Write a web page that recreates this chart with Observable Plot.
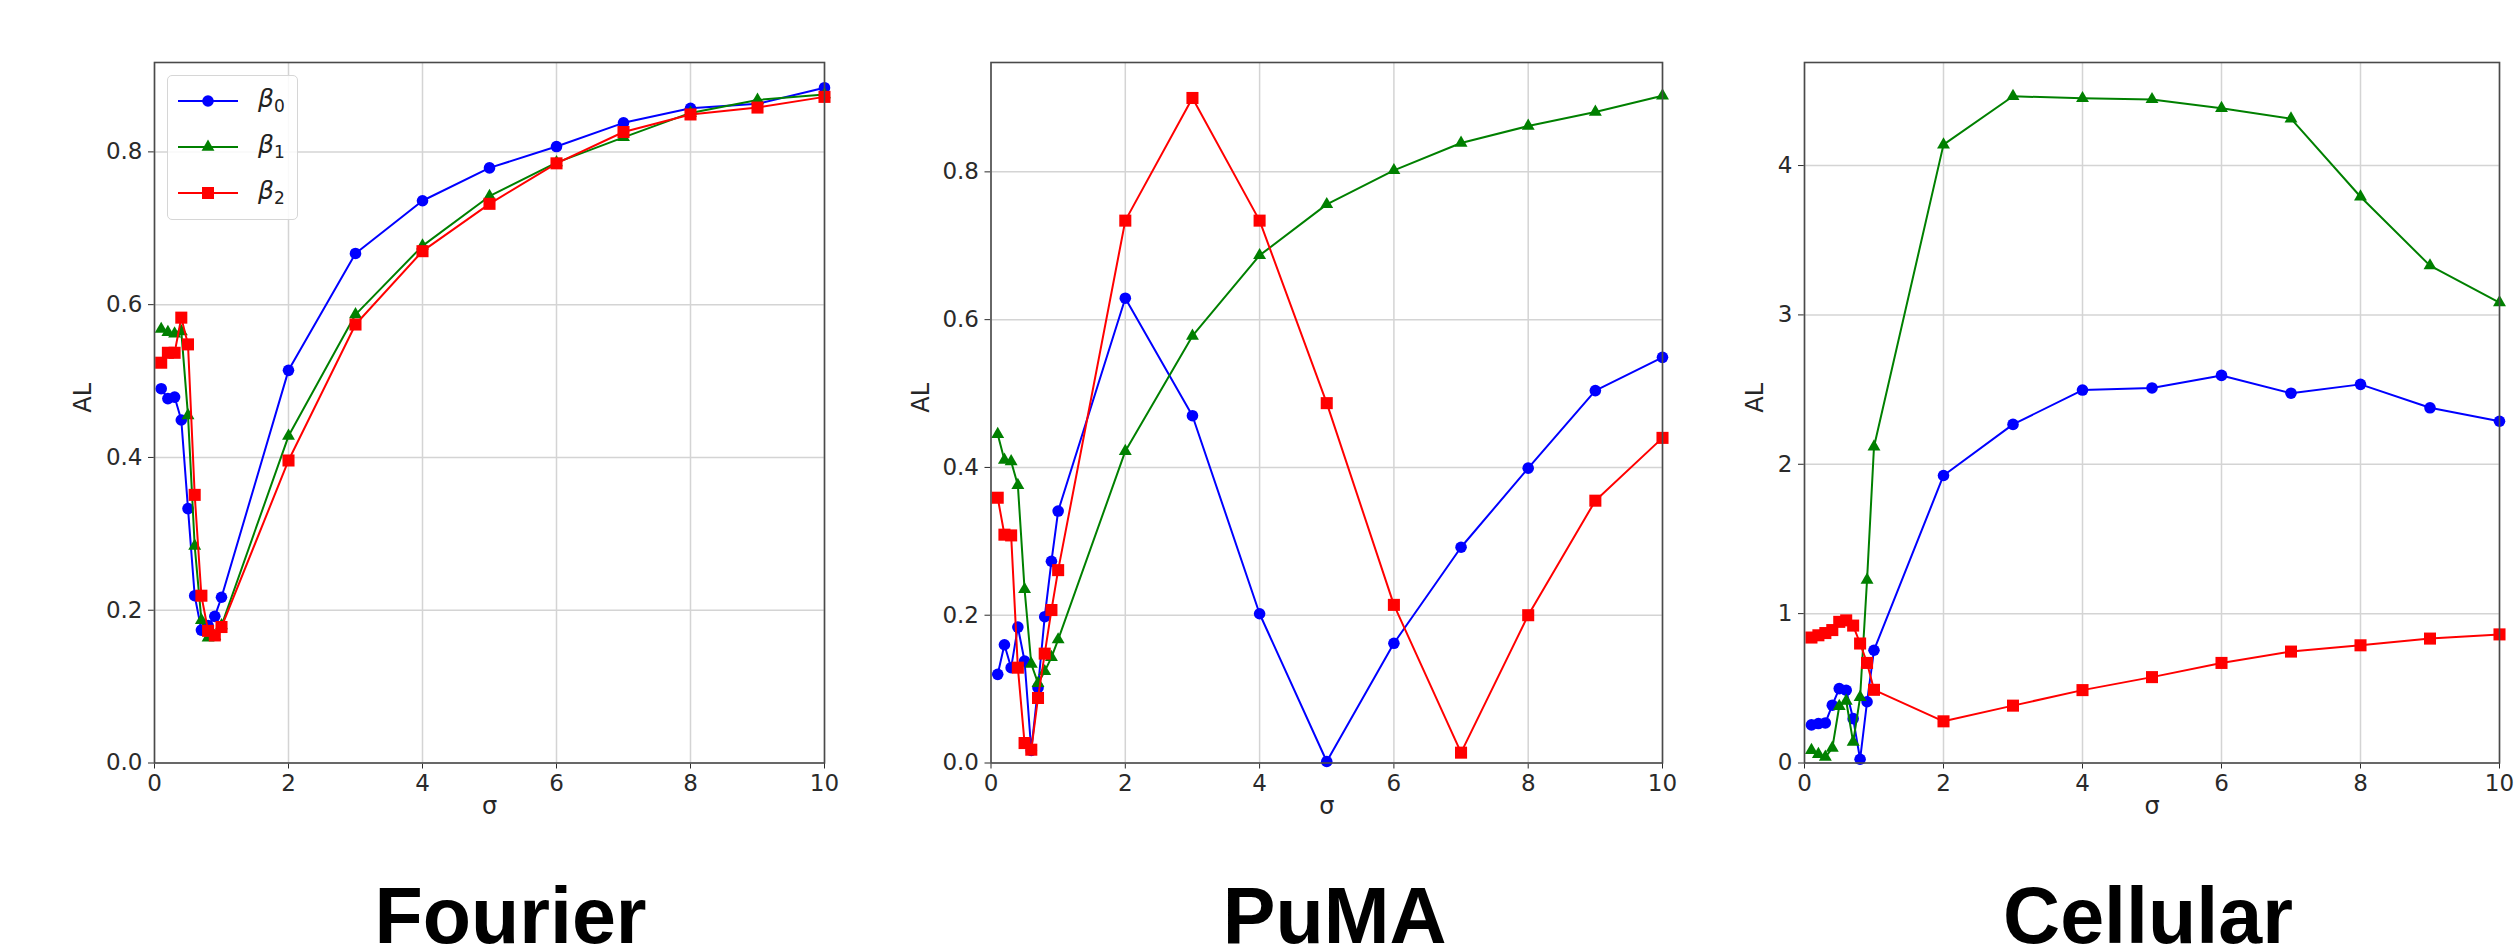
<!DOCTYPE html>
<html>
<head>
<meta charset="utf-8">
<script src="https://cdn.jsdelivr.net/npm/d3@7"></script>
<script src="https://cdn.jsdelivr.net/npm/@observablehq/plot@0.6"></script>
<style>
html, body { margin: 0; padding: 0; background: #fff; width: 2517px; height: 944px; overflow: hidden; }
#root { position: relative; width: 2517px; height: 944px; }
.panel { position: absolute; top: 0; }
.legend { position: absolute; box-sizing: border-box; border: 1.5px solid #d6d6d6; border-radius: 5px; background: rgba(255,255,255,0.85); font-family: "DejaVu Sans", sans-serif; color: #222; }
.legend .row { position: absolute; left: 0; height: 30px; }
.legend svg { position: absolute; left: 0; top: 0; }
.legend .lab { position: absolute; left: 90px; top: -2px; font-size: 25px; line-height: 30px; white-space: nowrap; }
.legend .lab i { font-style: italic; }
.legend .lab sub { font-size: 17px; vertical-align: -5px; }
</style>
</head>
<body>
<div id="root"></div>
<script>
// ---- data ----
const sigma = [0.1, 0.2, 0.3, 0.4, 0.5, 0.6, 0.7, 0.8, 0.9, 1, 2, 3, 4, 5, 6, 7, 8, 9, 10];
const seriesNames = ["β0", "β1", "β2"];
const seriesColors = ["#0000ff", "#008000", "#ff0000"];
const seriesSymbols = ["circle", "triangle", "square"];
const panelTitles = ["Fourier", "PuMA", "Cellular"];
const xTicks = [0, 2, 4, 6, 8, 10];
const fourierYTicks = [0, 0.2, 0.4, 0.6, 0.8];
const pumaYTicks = [0, 0.2, 0.4, 0.6, 0.8];
const cellularYTicks = [0, 1, 2, 3, 4];
const xLabel = "σ";
const yLabel = "AL";

const fourierB0 = [0.490, 0.477, 0.479, 0.449, 0.333, 0.219, 0.174, 0.180, 0.192, 0.217, 0.514, 0.667, 0.736, 0.779, 0.807, 0.838, 0.857, 0.863, 0.884];
const fourierB1 = [0.568, 0.564, 0.562, 0.565, 0.455, 0.284, 0.187, 0.164, 0.166, 0.180, 0.428, 0.587, 0.677, 0.742, 0.786, 0.819, 0.851, 0.868, 0.875];
const fourierB2 = [0.524, 0.537, 0.537, 0.583, 0.548, 0.351, 0.219, 0.173, 0.167, 0.178, 0.396, 0.574, 0.670, 0.732, 0.785, 0.826, 0.849, 0.858, 0.872];

const pumaB0 = [0.120, 0.160, 0.129, 0.184, 0.138, 0.017, 0.102, 0.198, 0.273, 0.341, 0.629, 0.470, 0.202, 0.002, 0.162, 0.292, 0.399, 0.504, 0.549];
const pumaB1 = [0.445, 0.410, 0.408, 0.376, 0.235, 0.134, 0.108, 0.124, 0.143, 0.167, 0.422, 0.578, 0.687, 0.756, 0.802, 0.839, 0.862, 0.881, 0.903];
const pumaB2 = [0.359, 0.309, 0.308, 0.129, 0.027, 0.018, 0.088, 0.148, 0.207, 0.261, 0.734, 0.900, 0.734, 0.487, 0.214, 0.014, 0.200, 0.355, 0.440];

const cellularB0 = [0.255, 0.264, 0.268, 0.387, 0.498, 0.487, 0.297, 0.025, 0.410, 0.755, 1.925, 2.267, 2.497, 2.511, 2.595, 2.476, 2.535, 2.378, 2.288];
const cellularB1 = [0.085, 0.058, 0.040, 0.100, 0.380, 0.415, 0.140, 0.440, 1.225, 2.117, 4.140, 4.464, 4.450, 4.443, 4.384, 4.314, 3.791, 3.330, 3.083];
const cellularB2 = [0.840, 0.855, 0.870, 0.890, 0.945, 0.955, 0.920, 0.800, 0.670, 0.490, 0.279, 0.384, 0.488, 0.575, 0.670, 0.746, 0.788, 0.833, 0.861];

// ---- layout ----
const H = 944;
const panels = [
  { title: panelTitles[0], series: [fourierB0, fourierB1, fourierB2], yMax: 0.917, yTicks: fourierYTicks, fmt: d3.format(".1f"),
    left: 0, width: 840, ml: 154, mr: 16, alDx: -71, titleDx: 21 },
  { title: panelTitles[1], series: [pumaB0, pumaB1, pumaB2], yMax: 0.948, yTicks: pumaYTicks, fmt: d3.format(".1f"),
    left: 840, width: 840, ml: 150.5, mr: 18, alDx: -70, titleDx: 8 },
  { title: panelTitles[2], series: [cellularB0, cellularB1, cellularB2], yMax: 4.69, yTicks: cellularYTicks, fmt: d3.format("d"),
    left: 1680, width: 837, ml: 124, mr: 18, alDx: -49, titleDx: -4 }
];
const symbolR = { circle: 5.8, triangle: 4.8, square: 6.8 };
const root = document.getElementById("root");

for (const p of panels) {
  const rows = [];
  p.series.forEach((arr, k) => sigma.forEach((s, i) => rows.push({ sigma: s, al: arr[i], k })));
  const marks = [
    Plot.ruleX(xTicks, { stroke: "#d4d4d4", strokeWidth: 1.5 }),
    Plot.ruleY(p.yTicks, { stroke: "#d4d4d4", strokeWidth: 1.5 })
  ];
  p.series.forEach((arr, k) => {
    const d = rows.filter(r => r.k === k);
    marks.push(Plot.line(d, { x: "sigma", y: "al", stroke: seriesColors[k], strokeWidth: 2 }));
    marks.push(Plot.dot(d, { x: "sigma", y: "al", fill: seriesColors[k], symbol: seriesSymbols[k], r: symbolR[seriesSymbols[k]] }));
  });
  marks.push(Plot.frame({ stroke: "#4a4a4a", strokeWidth: 1.6 }));
  marks.push(Plot.text([yLabel], { frameAnchor: "left", text: d => d, rotate: -90, dx: p.alDx, fontSize: 24, fill: "#262626" }));
  marks.push(Plot.text([xLabel], { frameAnchor: "bottom", text: d => d, dy: 51, fontSize: 24, fill: "#262626" }));
  marks.push(Plot.text([p.title], { frameAnchor: "bottom", text: d => d, dy: 179.5, dx: p.titleDx, lineAnchor: "bottom",
    fontSize: 79, fontWeight: "bold", fontFamily: "Liberation Sans, Arial, sans-serif", fill: "#000" }));

  const chart = Plot.plot({
    width: p.width,
    height: H,
    marginLeft: p.ml,
    marginRight: p.mr,
    marginTop: 62,
    marginBottom: H - 762.5,
    x: { domain: [0, 10], ticks: xTicks, tickFormat: d => String(d), tickSize: 6, tickPadding: 6, label: null },
    y: { domain: [0, p.yMax], ticks: p.yTicks, tickFormat: p.fmt, tickSize: 6, tickPadding: 6, label: null },
    style: { fontFamily: "DejaVu Sans, sans-serif", fontSize: "23px", color: "#2a2a2a", background: "transparent", overflow: "visible" },
    marks
  });
  chart.classList.add("panel");
  chart.style.left = p.left + "px";
  chart.style.position = "absolute";
  chart.style.top = "0px";
  root.appendChild(chart);
}

// ---- legend (first panel) ----
const legend = d3.select(root).append("div").attr("class", "legend")
  .style("left", "167px").style("top", "75px").style("width", "131px").style("height", "145px");
const rowCenters = [25, 71, 117];
seriesNames.forEach((name, k) => {
  const row = legend.append("div").attr("class", "row").style("top", (rowCenters[k] - 15) + "px").style("width", "130px");
  const svg = row.append("svg").attr("width", 80).attr("height", 30);
  svg.append("line").attr("x1", 10).attr("x2", 70).attr("y1", 15).attr("y2", 15)
    .attr("stroke", seriesColors[k]).attr("stroke-width", 2);
  const sym = { circle: d3.symbolCircle, triangle: d3.symbolTriangle, square: d3.symbolSquare }[seriesSymbols[k]];
  const r = symbolR[seriesSymbols[k]];
  svg.append("path").attr("transform", "translate(40,15)")
    .attr("d", d3.symbol(sym, Math.PI * r * r)()).attr("fill", seriesColors[k]);
  const lab = row.append("div").attr("class", "lab");
  lab.append("i").text(name.slice(0, 1));
  lab.append("sub").text(name.slice(1));
});
</script>
</body>
</html>
